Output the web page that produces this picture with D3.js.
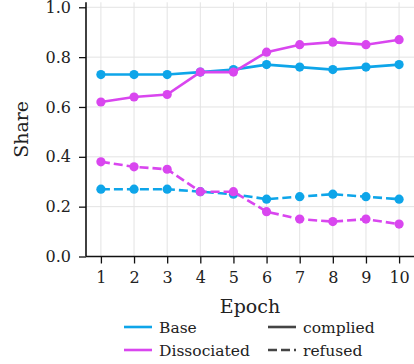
<!DOCTYPE html>
<html>
<head>
<meta charset="utf-8">
<script src="https://cdn.jsdelivr.net/npm/d3@7"></script>
<style>
  body { margin: 0; background: #fff; }
  svg { display: block; }
  text { font-family: "DejaVu Serif", serif; fill: #222; }
</style>
</head>
<body>
<script>
const epochs = [1, 2, 3, 4, 5, 6, 7, 8, 9, 10]
const baseComplied = [0.73, 0.73, 0.73, 0.74, 0.75, 0.77, 0.76, 0.75, 0.76, 0.77]
const baseRefused = [0.27, 0.27, 0.27, 0.26, 0.25, 0.23, 0.24, 0.25, 0.24, 0.23]
const dissComplied = [0.62, 0.64, 0.65, 0.74, 0.74, 0.82, 0.85, 0.86, 0.85, 0.87]
const dissRefused = [0.38, 0.36, 0.35, 0.26, 0.26, 0.18, 0.15, 0.14, 0.15, 0.13]
const yTicks = [0, 0.2, 0.4, 0.6, 0.8, 1.0]

const blue = '#0ea5e9'
const pink = '#d946ef'

const W = 414, H = 364
const margin = {top: 2.3, right: 0, bottom: 107.5, left: 86}
const width = W - margin.left - margin.right
const height = H - margin.top - margin.bottom

const svg = d3.select('body').append('svg')
  .attr('width', W)
  .attr('height', H)

const g = svg.append('g')
  .attr('transform', `translate(${margin.left},${margin.top})`)

// scales, matplotlib-ish 5% margins on x
const x = d3.scaleLinear().domain([0.55, 10.45]).range([0, width])
const y = d3.scaleLinear().domain([0, 1.02]).range([height, 0])

// grid
g.append('g').selectAll('line')
  .data(epochs).enter().append('line')
  .attr('x1', d => x(d)).attr('x2', d => x(d))
  .attr('y1', 0).attr('y2', height)
  .attr('stroke', '#e3e3e3').attr('stroke-width', 1)
g.append('g').selectAll('line')
  .data(yTicks).enter().append('line')
  .attr('x1', 0).attr('x2', width)
  .attr('y1', d => y(d)).attr('y2', d => y(d))
  .attr('stroke', '#e3e3e3').attr('stroke-width', 1)

// series
const series = [
  {values: baseComplied, color: blue, dash: null},
  {values: dissComplied, color: pink, dash: null},
  {values: baseRefused, color: blue, dash: '9,4'},
  {values: dissRefused, color: pink, dash: '9,4'},
]
const line = d3.line().x((d, i) => x(epochs[i])).y(d => y(d))

for (const s of series) {
  g.append('path')
    .datum(s.values)
    .attr('d', line)
    .attr('fill', 'none')
    .attr('stroke', s.color)
    .attr('stroke-width', 2.6)
    .attr('stroke-dasharray', s.dash)
  g.append('g').selectAll('circle')
    .data(s.values).enter().append('circle')
    .attr('cx', (d, i) => x(epochs[i]))
    .attr('cy', d => y(d))
    .attr('r', 4.6)
    .attr('fill', s.color)
}

// axes
const xAxis = g.append('g')
  .attr('transform', `translate(0,${height})`)
  .call(d3.axisBottom(x).tickValues(epochs).tickSize(7).tickPadding(8))
const yAxis = g.append('g')
  .call(d3.axisLeft(y).tickValues(yTicks).tickFormat(d3.format('.1f')).tickSize(7).tickPadding(8))
for (const ax of [xAxis, yAxis]) {
  ax.select('.domain').attr('stroke', '#111').attr('stroke-width', 1.6)
  ax.selectAll('.tick line').attr('stroke', '#111').attr('stroke-width', 1.3)
  ax.selectAll('.tick text')
    .style('font-family', '"DejaVu Serif", serif')
    .style('font-size', '16px')
    .attr('fill', '#222')
}
// spines only span the data area
yAxis.select('.domain').attr('d', `M0,${height}V0`)
xAxis.select('.domain').attr('d', `M0,0H${width}`)

// axis labels
svg.append('text')
  .attr('x', margin.left + x(5.5))
  .attr('y', 313)
  .attr('text-anchor', 'middle')
  .style('font-size', '19px')
  .text('Epoch')
svg.append('text')
  .attr('transform', `translate(28,${margin.top + height / 2}) rotate(-90)`)
  .attr('text-anchor', 'middle')
  .style('font-size', '19px')
  .text('Share')

// legend
const legendItems = [
  {label: 'Base', color: blue, dash: null, x: 124, y: 327},
  {label: 'Dissociated', color: pink, dash: null, x: 124, y: 350},
  {label: 'complied', color: '#444', dash: null, x: 268, y: 327},
  {label: 'refused', color: '#444', dash: '9,4', x: 268, y: 350},
]
const legend = svg.append('g')
legend.selectAll('line')
  .data(legendItems).enter().append('line')
  .attr('x1', d => d.x).attr('x2', d => d.x + 28)
  .attr('y1', d => d.y).attr('y2', d => d.y)
  .attr('stroke', d => d.color)
  .attr('stroke-width', 2.6)
  .attr('stroke-dasharray', d => d.dash)
legend.selectAll('text')
  .data(legendItems).enter().append('text')
  .attr('x', d => d.x + 35)
  .attr('y', d => d.y + 5.5)
  .style('font-size', '15.5px')
  .text(d => d.label)
</script>
</body>
</html>
